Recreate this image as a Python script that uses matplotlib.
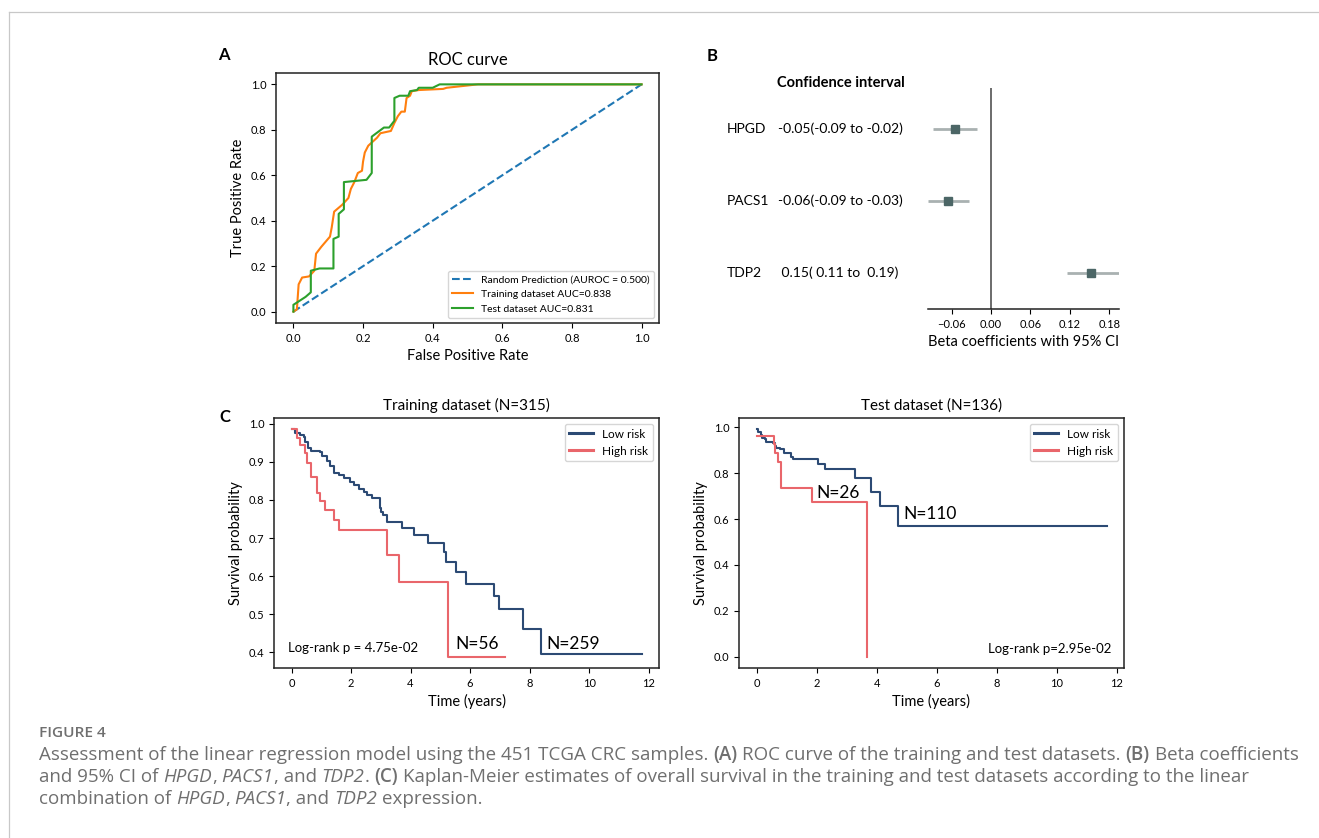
import matplotlib
matplotlib.use('Agg')
import matplotlib.pyplot as plt
import matplotlib.transforms as mtransforms
from matplotlib.lines import Line2D

W, H = 1319, 838

# ROC curve (panel A)
train_fpr = [0.0, 0.01, 0.015, 0.025, 0.045, 0.06, 0.065, 0.08, 0.105, 0.11, 0.117, 0.14, 0.158,
             0.165, 0.175, 0.185, 0.197, 0.20, 0.205, 0.215, 0.24, 0.25, 0.28, 0.29, 0.30, 0.31,
             0.32, 0.325, 0.335, 0.34, 0.36, 0.43, 0.44, 0.47, 0.50, 0.53, 1.0]
train_tpr = [0.0, 0.01, 0.12, 0.15, 0.155, 0.18, 0.255, 0.285, 0.33, 0.37, 0.44, 0.47, 0.50,
             0.54, 0.57, 0.61, 0.62, 0.66, 0.70, 0.73, 0.765, 0.785, 0.795, 0.83, 0.86, 0.88,
             0.88, 0.94, 0.95, 0.97, 0.975, 0.98, 0.985, 0.99, 0.995, 1.0, 1.0]
test_fpr = [0.0, 0.0, 0.035, 0.05, 0.05, 0.075, 0.115, 0.115, 0.13, 0.13, 0.145, 0.145, 0.21,
            0.225, 0.225, 0.26, 0.275, 0.29, 0.29, 0.305, 0.33, 0.335, 0.355, 0.36, 0.40, 0.42, 1.0]
test_tpr = [0.0, 0.03, 0.065, 0.085, 0.18, 0.19, 0.19, 0.32, 0.33, 0.43, 0.45, 0.57, 0.58,
            0.61, 0.77, 0.81, 0.81, 0.84, 0.94, 0.95, 0.95, 0.97, 0.975, 0.985, 0.985, 1.0, 1.0]

# beta coefficients (panel B)
genes = ['HPGD', 'PACS1', 'TDP2']
beta = [-0.055, -0.065, 0.153]
ci_low = [-0.088, -0.096, 0.116]
ci_high = [-0.021, -0.033, 0.195]
ci_text = ['-0.05(-0.09 to -0.02)', '-0.06(-0.09 to -0.03)', ' 0.15( 0.11 to  0.19)']

# Kaplan-Meier, training dataset
tr_low_t = [0, 0.13, 0.30, 0.41, 0.47, 0.55, 0.64, 0.95, 1.03, 1.20, 1.31, 1.42, 1.59, 1.75,
            1.98, 2.09, 2.26, 2.42, 2.54, 2.71, 2.98, 3.02, 3.09, 3.21, 3.71, 4.12, 4.57, 5.13,
            5.20, 5.53, 5.87, 6.80, 6.98, 7.77, 8.37, 11.76]
tr_low_s = [0.985, 0.975, 0.969, 0.966, 0.953, 0.936, 0.929, 0.925, 0.914, 0.901, 0.888, 0.870,
            0.866, 0.857, 0.848, 0.839, 0.829, 0.820, 0.813, 0.806, 0.780, 0.769, 0.761, 0.743,
            0.727, 0.708, 0.688, 0.664, 0.638, 0.611, 0.579, 0.547, 0.513, 0.462, 0.396, 0.396]
tr_high_t = [0, 0.17, 0.19, 0.28, 0.47, 0.53, 0.64, 0.86, 0.97, 1.11, 1.42, 1.61, 3.21, 3.60,
             5.27, 7.17]
tr_high_s = [0.985, 0.975, 0.962, 0.945, 0.923, 0.897, 0.861, 0.818, 0.796, 0.774, 0.747, 0.721,
             0.655, 0.585, 0.389, 0.389]

# Kaplan-Meier, test dataset
te_low_t = [0, 0.04, 0.10, 0.16, 0.19, 0.27, 0.30, 0.54, 0.60, 0.66, 0.79, 0.93, 1.16, 1.23,
            2.04, 2.27, 3.27, 3.80, 4.10, 4.71, 11.66]
te_low_s = [0.991, 0.981, 0.978, 0.966, 0.955, 0.948, 0.936, 0.933, 0.918, 0.911, 0.904, 0.890,
            0.872, 0.860, 0.838, 0.820, 0.780, 0.719, 0.656, 0.569, 0.569]
te_high_t = [0, 0.57, 0.63, 0.71, 0.80, 0.82, 1.86, 3.68]
te_high_s = [0.962, 0.925, 0.888, 0.850, 0.812, 0.734, 0.673, 0.0]

low_col = '#2c4a74'
high_col = '#e9666b'

plt.rcParams['font.family'] = ['Lato', 'DejaVu Sans']
plt.rcParams['axes.edgecolor'] = '#222222'
plt.rcParams['axes.linewidth'] = 1.1
plt.rcParams['xtick.labelsize'] = 8
plt.rcParams['ytick.labelsize'] = 8

fig = plt.figure(figsize=(W / 100, H / 100), dpi=100)


def rect(l, t, r, b):
    return [l / W, 1 - b / H, (r - l) / W, (b - t) / H]


# page frame
fig.add_artist(Line2D([9 / W, 1], [1 - 12 / H, 1 - 12 / H], color='#c8c8c8', lw=0.9))
fig.add_artist(Line2D([9 / W, 9 / W], [0, 1 - 12 / H], color='#c8c8c8', lw=0.9))

# ---- A: ROC
ax = fig.add_axes(rect(276, 73, 659, 323))
ax.plot([0, 1], [0, 1], '--', color='#1f77b4', lw=1.5, label='Random Prediction (AUROC = 0.500)')
ax.plot(train_fpr, train_tpr, color='#ff7f0e', lw=1.5, label='Training dataset AUC=0.838')
ax.plot(test_fpr, test_tpr, color='#2ca02c', lw=1.5, label='Test dataset AUC=0.831')
ax.set_title('ROC curve', fontsize=12)
ax.set_xlabel('False Positive Rate', fontsize=10.5)
ax.set_ylabel('True Positive Rate', fontsize=10.5)
ax.legend(loc='lower right', fontsize=7.5)
fig.text(224 / W, 1 - 55 / H, 'A', fontsize=12, fontweight='bold', ha='center', va='center')

# ---- B: beta coefficients
axb = fig.add_axes(rect(928, 88, 1119, 309))
rows = list(range(len(genes)))
axb.hlines(rows, ci_low, ci_high, color='#a9b1b1', lw=2)
axb.plot(beta, rows, 's', color='#4c6666', ms=6)
axb.axvline(0, color='#444444', lw=1.1)
axb.set_ylim(2.5, -0.57)
axb.set_xlim(-0.096, 0.195)
axb.set_xticks([-0.06, 0.0, 0.06, 0.12, 0.18])
axb.set_yticks([])
for s in ['left', 'top', 'right']:
    axb.spines[s].set_visible(False)
axb.set_xlabel('Beta coefficients with 95% CI', fontsize=10.5)
tr = mtransforms.blended_transform_factory(fig.transFigure, axb.transData)
for i in rows:
    axb.text(727 / W, i, genes[i], transform=tr, fontsize=10, va='center', ha='left')
    axb.text(778 / W, i, ci_text[i], transform=tr, fontsize=10, va='center', ha='left')
fig.text(777 / W, 1 - 87 / H, 'Confidence interval', fontsize=10.5, fontweight='bold',
         va='baseline')
fig.text(712 / W, 1 - 56 / H, 'B', fontsize=12, fontweight='bold', ha='center', va='center')

# ---- C: Kaplan-Meier
ax1 = fig.add_axes(rect(274, 418, 659, 668))
ax1.step(tr_low_t, tr_low_s, where='post', color=low_col, lw=1.5, label='Low risk')
ax1.step(tr_high_t, tr_high_s, where='post', color=high_col, lw=1.5, label='High risk')
ax1.set_title('Training dataset (N=315)', fontsize=11)
ax1.set_xlabel('Time (years)', fontsize=10.5)
ax1.set_ylabel('Survival probability', fontsize=10.5)
ax1.set_xticks(range(0, 13, 2))
ax1.legend(loc='upper right', fontsize=8.5)
ax1.text(0.036, 0.064, 'Log-rank p = 4.75e-02', transform=ax1.transAxes, fontsize=9.5,
         va='baseline')
ax1.text(5.52, 0.408, 'N=56', fontsize=12.5, va='baseline')
ax1.text(8.55, 0.408, 'N=259', fontsize=12.5, va='baseline')
fig.text(225 / W, 1 - 417 / H, 'C', fontsize=12, fontweight='bold', ha='center', va='center')

ax2 = fig.add_axes(rect(739, 418, 1124, 668))
ax2.step(te_low_t, te_low_s, where='post', color=low_col, lw=1.5, label='Low risk')
ax2.step(te_high_t, te_high_s, where='post', color=high_col, lw=1.5, label='High risk')
ax2.set_title('Test dataset (N=136)', fontsize=11)
ax2.set_xlabel('Time (years)', fontsize=10.5)
ax2.set_ylabel('Survival probability', fontsize=10.5)
ax2.set_xticks(range(0, 13, 2))
ax2.legend(loc='upper right', fontsize=8.5)
ax2.text(0.968, 0.059, 'Log-rank p=2.95e-02', transform=ax2.transAxes, fontsize=9.5,
         va='baseline', ha='right')
ax2.text(1.99, 0.693, 'N=26', fontsize=12.5, va='baseline')
ax2.text(4.9, 0.598, 'N=110', fontsize=12.5, va='baseline')

for a in (ax1, ax2):
    for line in a.get_legend().get_lines():
        line.set_linewidth(2.2)

# ---- caption with mixed styles
cap_col = '#6f6f6f'
cap_font = ['Open Sans', 'DejaVu Sans']
renderer = fig.canvas.get_renderer()

line1 = [('Assessment of the linear regression model using the 451 TCGA CRC samples. ', ''),
         ('(A)', 'b'), (' ROC curve of the training and test datasets. ', ''),
         ('(B)', 'b'), (' Beta coefficients', '')]
line2 = [('and 95% CI of ', ''), ('HPGD', 'i'), (', ', ''), ('PACS1', 'i'),
         (', and ', ''), ('TDP2', 'i'), ('. ', ''), ('(C)', 'b'),
         (' Kaplan-Meier estimates of overall survival in the training and test '
          'datasets according to the linear', '')]
line3 = [('combination of ', ''), ('HPGD', 'i'), (', ', ''), ('PACS1', 'i'),
         (', and ', ''), ('TDP2', 'i'), (' expression.', '')]


def measure(s, size, **kw):
    t = fig.text(0, 0, s, fontsize=size, family=cap_font, **kw)
    w = t.get_window_extent(renderer).width
    t.remove()
    return w


def caption_line(y, runs, size, draw=True):
    sp = measure('x x', size) - measure('xx', size)
    x = 39
    for s, style in runs:
        kw = {}
        if style == 'b':
            kw['fontweight'] = 'semibold'
        if style == 'i':
            kw['fontstyle'] = 'italic'
        core = s.strip()
        x += (len(s) - len(s.lstrip())) * sp
        if core:
            if draw:
                fig.text(x / W, 1 - y / H, core, fontsize=size, color=cap_col,
                         family=cap_font, va='baseline', **kw)
            x += measure(core, size, **kw)
            x += (len(s) - len(s.rstrip())) * sp
    return x


base = 12
end1 = caption_line(760, line1, base, draw=False)
cap_size = base * (1297 - 39) / (end1 - 39)

fig.text(39 / W, 1 - 737 / H, 'FIGURE 4', fontsize=cap_size * 0.82, color=cap_col,
         family=cap_font, fontweight='semibold', va='baseline')
caption_line(760, line1, cap_size)
caption_line(782, line2, cap_size)
caption_line(804, line3, cap_size)

fig.savefig('out.png', dpi=100)
